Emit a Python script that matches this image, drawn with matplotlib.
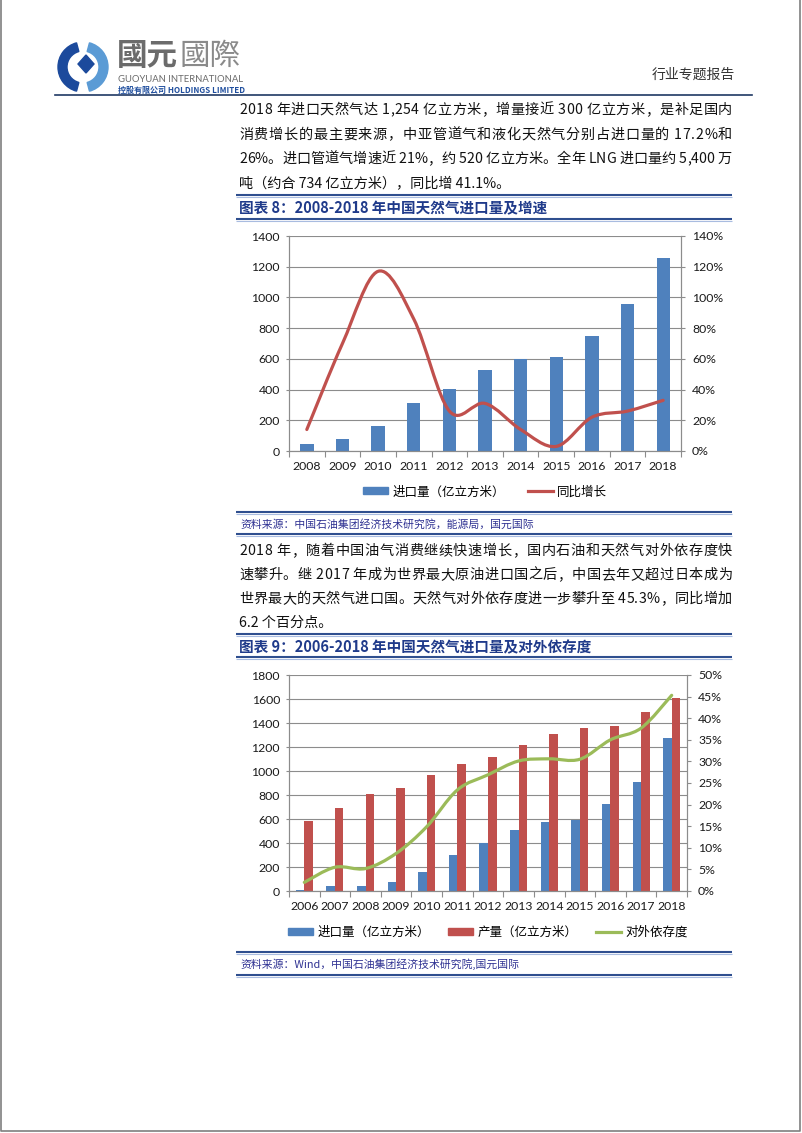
import numpy as np
import matplotlib
matplotlib.use('Agg')
import matplotlib.pyplot as plt
from matplotlib.path import Path
from matplotlib.patches import PathPatch, Wedge, Polygon, Patch
from matplotlib.lines import Line2D
from matplotlib.ticker import PercentFormatter

plt.rcParams['font.family'] = ['Noto Sans CJK SC', 'DejaVu Sans']

# chart 8: imports (亿立方米) and yoy growth (%)
years_8 = ['2008', '2009', '2010', '2011', '2012', '2013', '2014', '2015', '2016', '2017', '2018']
imports_8 = [44, 76, 165, 312, 405, 529, 600, 615, 752, 956, 1254]
growth_8 = [14, 70, 117, 86, 26, 31, 14, 3, 22, 26, 33]

# chart 9: imports, domestic output (亿立方米), import dependency (%)
years_9 = ['2006', '2007', '2008', '2009', '2010', '2011', '2012', '2013', '2014', '2015', '2016', '2017', '2018']
imports_9 = [9, 40, 44, 75, 158, 303, 400, 508, 575, 595, 725, 908, 1272]
output_9 = [583, 694, 808, 858, 964, 1058, 1114, 1217, 1311, 1356, 1378, 1492, 1608]
depend_9 = [2.0, 5.5, 5.2, 8.7, 14.9, 23.4, 26.9, 30.1, 30.6, 30.5, 35.0, 37.7, 45.3]

para_1 = ['2018 年进口天然气达 1,254 亿立方米，增量接近 300 亿立方米，是补足国内',
          '消费增长的最主要来源，中亚管道气和液化天然气分别占进口量的 17.2%和',
          '26%。进口管道气增速近 21%，约 520 亿立方米。全年 LNG 进口量约 5,400 万',
          '吨（约合 734 亿立方米），同比增 41.1%。']
para_2 = ['2018 年，随着中国油气消费继续快速增长，国内石油和天然气对外依存度快',
          '速攀升。继 2017 年成为世界最大原油进口国之后，中国去年又超过日本成为',
          '世界最大的天然气进口国。天然气对外依存度进一步攀升至 45.3%，同比增加',
          '6.2 个百分点。']
title_8 = '图表 8：2008-2018 年中国天然气进口量及增速'
title_9 = '图表 9：2006-2018 年中国天然气进口量及对外依存度'
source_8 = '资料来源：中国石油集团经济技术研究院，能源局，国元国际'
source_9 = '资料来源：Wind，中国石油集团经济技术研究院,国元国际'

BLUE = '#4F81BD'
RED = '#C0504D'
GREEN = '#9BBB59'
GRID = '#8C8C8C'
NAVY = '#1F3A8A'
NUM_FONT = ['Lato', 'DejaVu Sans']

W, H = 802, 1133
fig = plt.figure(figsize=(W / 100, H / 100), dpi=100)
renderer = fig.canvas.get_renderer()

# page layer in pixel coordinates
bg = fig.add_axes([0, 0, 1, 1])
bg.set_xlim(0, W)
bg.set_ylim(H, 0)
bg.axis('off')

# page border
bg.plot([1, 1, 800, 800], [0, 1131, 1131, 0], color='#7F7F7F', lw=1.2)

# logo
bg.add_patch(Wedge((83, 67), 25, 105, 255, width=9, color='#1C4A9C'))
bg.add_patch(Wedge((83, 67), 25, -75, 75, width=9, color='#5B9BD5'))
bg.add_patch(Polygon([(86, 55), (94, 64), (86, 73), (78, 64)], color='#1C4A9C'))
bg.text(117, 56, '國元', fontsize=22, fontweight='bold', color='#6B6B6B',
        family=['Noto Sans CJK TC', 'DejaVu Sans'], va='center')
bg.text(179, 56, '國際', fontsize=22, fontweight='light', color='#8A8A8A',
        family=['Noto Sans CJK TC', 'DejaVu Sans'], va='center')
bg.text(118, 79, 'GUOYUAN INTERNATIONAL', fontsize=6.8, color='#6B6B6B',
        family=NUM_FONT, va='center')
bg.text(118, 90, '控股有限公司 HOLDINGS LIMITED', fontsize=5.8, fontweight='bold',
        color='#1F4E9E', va='center')
bg.text(735, 75, '行业专题报告', fontsize=10, color='#333333', ha='right', va='center')
bg.plot([55, 752], [95, 95], color='#1F3864', lw=1.2)


def rule(y):
    bg.plot([236, 732], [y, y], color='#2F4F8F', lw=1.5, solid_capstyle='butt')
    bg.plot([236, 732], [y + 1.8, y + 1.8], color='#A9BCE0', lw=0.8, solid_capstyle='butt')


def text_w(s, size):
    t = bg.text(0, 0, s, fontsize=size)
    w = t.get_window_extent(renderer).width
    t.remove()
    return w


def justify_line(s, x0, x1, y, size):
    # spread characters so the line fills x0..x1, like the justified report text
    lefts = []
    for i, ch in enumerate(s):
        if ch == ' ':
            continue
        right = text_w(s[:i + 1], size)
        lefts.append((i, ch, right - text_w(ch, size)))
    natural = text_w(s, size)
    extra = (x1 - x0 - natural) / max(len(s) - 1, 1)
    for i, ch, left in lefts:
        bg.text(x0 + left + i * extra, y, ch, fontsize=size, color='#111111', va='center')


def body(lines, y0, step, size=10.2):
    for i, s in enumerate(lines):
        y = y0 + i * step
        if i < len(lines) - 1:
            justify_line(s, 239, 732, y, size)
        else:
            bg.text(239, y, s, fontsize=size, color='#111111', va='center')


body(para_1, 110, 24.6)
rule(195)
bg.text(239, 208, title_8, fontsize=10.5, fontweight='bold', color=NAVY, va='center')
rule(219)

rule(512)
bg.text(240, 524, source_8, fontsize=7.8, color='#2E3192', va='center')
rule(534)

body(para_2, 551, 24.0)
rule(634)
bg.text(239, 647, title_9, fontsize=10.5, fontweight='bold', color=NAVY, va='center')
rule(657)

rule(952)
bg.text(240, 964, source_9, fontsize=7.8, color='#2E3192', va='center')
rule(975)


def smooth_path(x, y):
    # Excel-style smoothed line: Catmull-Rom segments as cubic Bezier curves
    x = np.asarray(x, float)
    y = np.asarray(y, float)
    px = np.concatenate([[x[0]], x, [x[-1]]])
    py = np.concatenate([[y[0]], y, [y[-1]]])
    verts = [(x[0], y[0])]
    codes = [Path.MOVETO]
    for i in range(len(x) - 1):
        c1 = (px[i + 1] + (px[i + 2] - px[i]) / 6, py[i + 1] + (py[i + 2] - py[i]) / 6)
        c2 = (px[i + 2] - (px[i + 3] - px[i + 1]) / 6, py[i + 2] - (py[i + 3] - py[i + 1]) / 6)
        verts += [c1, c2, (px[i + 2], py[i + 2])]
        codes += [Path.CURVE4] * 3
    return Path(verts, codes)


def style_axes(ax, axr, n):
    ax.set_xlim(-0.5, n - 0.5)
    ax.yaxis.grid(True, color=GRID, lw=0.8)
    ax.set_axisbelow(True)
    for a in (ax, axr):
        a.spines['top'].set_visible(False)
        for s in ('left', 'right', 'bottom'):
            a.spines[s].set_color(GRID)
            a.spines[s].set_linewidth(0.8)
    ax.set_xticks(np.arange(-0.5, n, 1), minor=True)
    ax.tick_params(axis='x', which='major', length=0, pad=7.5)
    ax.tick_params(axis='x', which='minor', length=4, color=GRID, width=0.8)
    ax.tick_params(axis='y', length=2.5, color=GRID, width=0.8, pad=4)
    axr.tick_params(axis='y', length=3, color=GRID, width=0.8, pad=5)
    for a in (ax, axr):
        for lab in a.get_xticklabels() + a.get_yticklabels():
            lab.set_family(NUM_FONT)
            lab.set_fontsize(8.8)
            lab.set_color('#1A1A1A')


# chart 8
ax1 = fig.add_axes([289 / W, 1 - 451 / H, 392 / W, 215 / H])
x8 = np.arange(len(years_8))
ax1.bar(x8, imports_8, width=0.375, color=BLUE)
ax1.set_ylim(0, 1400)
ax1.set_yticks(range(0, 1401, 200))
ax1.set_xticks(x8)
ax1.set_xticklabels(years_8)
ax1r = ax1.twinx()
ax1r.add_patch(PathPatch(smooth_path(x8, growth_8), fc='none', ec=RED, lw=2.3, capstyle='round'))
ax1r.set_ylim(0, 140)
ax1r.set_yticks(range(0, 141, 20))
ax1r.yaxis.set_major_formatter(PercentFormatter(decimals=0))
style_axes(ax1, ax1r, len(years_8))
ax1.legend([Patch(color=BLUE), Line2D([], [], color=RED, lw=2.3)],
           ['进口量（亿立方米）', '同比增长'], loc='center', bbox_to_anchor=(0.5, -0.19),
           ncol=2, frameon=False, fontsize=9, handlelength=2.0, handleheight=0.5,
           handletextpad=0.35, columnspacing=1.8)

# chart 9
ax2 = fig.add_axes([289 / W, 1 - 891 / H, 398 / W, 216 / H])
x9 = np.arange(len(years_9))
ax2.bar(x9 - 0.14, imports_9, width=0.28, color=BLUE)
ax2.bar(x9 + 0.14, output_9, width=0.28, color=RED)
ax2.set_ylim(0, 1800)
ax2.set_yticks(range(0, 1801, 200))
ax2.set_xticks(x9)
ax2.set_xticklabels(years_9)
ax2r = ax2.twinx()
ax2r.add_patch(PathPatch(smooth_path(x9, depend_9), fc='none', ec=GREEN, lw=2.3, capstyle='round'))
ax2r.set_ylim(0, 50)
ax2r.set_yticks(range(0, 51, 5))
ax2r.yaxis.set_major_formatter(PercentFormatter(decimals=0))
style_axes(ax2, ax2r, len(years_9))
ax2.legend([Patch(color=BLUE), Patch(color=RED), Line2D([], [], color=GREEN, lw=2.3)],
           ['进口量（亿立方米）', '产量（亿立方米）', '对外依存度'], loc='center',
           bbox_to_anchor=(0.5, -0.19), ncol=3, frameon=False, fontsize=9,
           handlelength=2.0, handleheight=0.5, handletextpad=0.35, columnspacing=1.5)

fig.savefig('out.png', dpi=100)
